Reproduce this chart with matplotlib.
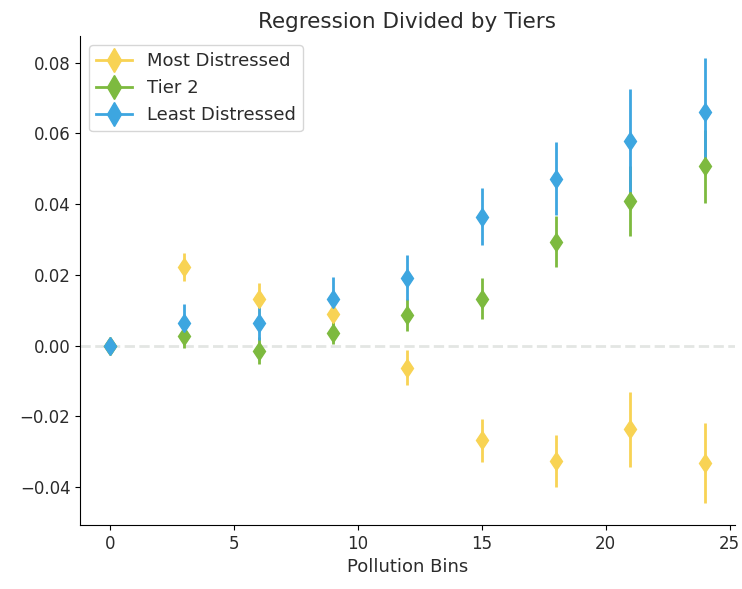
import matplotlib
matplotlib.use("Agg")
import matplotlib.pyplot as plt
from matplotlib.lines import Line2D

bins = [0, 3, 6, 9, 12, 15, 18, 21, 24]

most_coef = [0.0, 0.0223, 0.0133, 0.0090, -0.0062, -0.0268, -0.0327, -0.0237, -0.0331]
most_err = [0.0, 0.0040, 0.0045, 0.0040, 0.0050, 0.0060, 0.0074, 0.0106, 0.0113]

tier2_coef = [0.0, 0.0027, -0.0014, 0.0037, 0.0086, 0.0133, 0.0294, 0.0410, 0.0507]
tier2_err = [0.0, 0.0035, 0.0037, 0.0032, 0.0045, 0.0058, 0.0072, 0.0099, 0.0103]

least_coef = [0.0, 0.0065, 0.0065, 0.0133, 0.0192, 0.0365, 0.0472, 0.0580, 0.0661]
least_err = [0.0, 0.0054, 0.0050, 0.0060, 0.0064, 0.0081, 0.0104, 0.0146, 0.0152]

labels = ["Most Distressed", "Tier 2", "Least Distressed"]
colors = ["#F8D354", "#7DBA3F", "#3DA6E0"]

plt.rcParams["text.color"] = "#2b2b2b"
plt.rcParams["xtick.labelcolor"] = "#2b2b2b"
plt.rcParams["ytick.labelcolor"] = "#2b2b2b"
plt.rcParams["axes.labelcolor"] = "#2b2b2b"

fig, ax = plt.subplots(figsize=(7.42, 5.89), dpi=100)
fig.subplots_adjust(left=0.108, right=0.99, top=0.939, bottom=0.109)

ax.axhline(0, color="#e3e6e3", linestyle="--", linewidth=2, zorder=0)

series = [(most_coef, most_err), (tier2_coef, tier2_err), (least_coef, least_err)]
for (coef, err), c in zip(series, colors):
    ax.errorbar(bins, coef, yerr=err, fmt="d", color=c, ecolor=c,
                elinewidth=2, markersize=9.5, capsize=0)

handles = [Line2D([], [], color=c, marker="d", markersize=12, linewidth=2) for c in colors]
ax.legend(handles, labels, loc="upper left", fontsize=13)

ax.spines["top"].set_visible(False)
ax.spines["right"].set_visible(False)
ax.set_title("Regression Divided by Tiers", fontsize=15.5)
ax.set_xlabel("Pollution Bins", fontsize=13)
ax.tick_params(labelsize=12)

fig.savefig("out.png", dpi=100)
